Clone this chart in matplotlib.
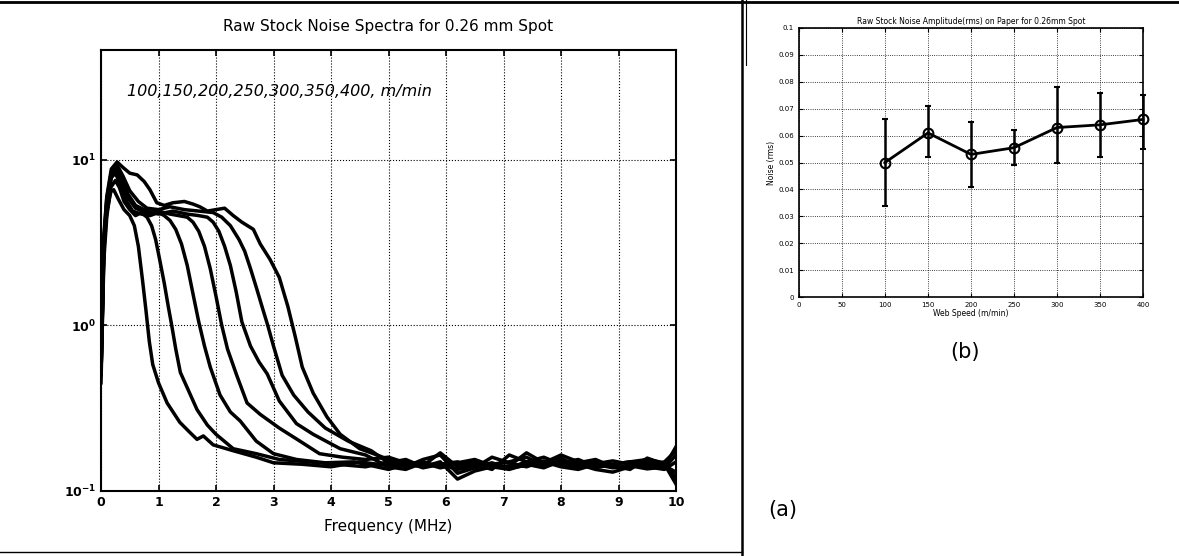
import matplotlib
matplotlib.use("Agg")
import matplotlib.pyplot as plt
from matplotlib.lines import Line2D

# ---- panel (a): raw stock noise spectra, one curve per web speed ----
speeds = [100, 150, 200, 250, 300, 350, 400]

f_100 = [0, 0.05, 0.1, 0.17, 0.22, 0.3, 0.4, 0.5, 0.58, 0.65, 0.72, 0.78, 0.84, 0.9, 1.0, 1.15,
         1.37, 1.55, 1.67, 1.78, 1.95, 2.3, 2.7, 3.0, 3.5, 4.0, 4.5]
a_100 = [0.5, 2.8, 4.8, 6.4, 6.6, 5.8, 5.0, 4.6, 4.0, 3.0, 1.9, 1.25, 0.8, 0.58, 0.45, 0.34,
         0.26, 0.225, 0.205, 0.215, 0.19, 0.175, 0.16, 0.148, 0.145, 0.14, 0.15]

f_150 = [0, 0.05, 0.1, 0.17, 0.25, 0.32, 0.4, 0.5, 0.6, 0.7, 0.8, 0.88, 0.95, 1.02, 1.1, 1.17,
         1.23, 1.3, 1.38, 1.5, 1.67, 1.85, 2.0, 2.3, 2.7, 3.1, 3.6, 4.1, 4.6]
a_150 = [0.45, 2.5, 4.5, 6.8, 7.5, 6.8, 5.6, 5.0, 4.6, 4.8, 4.5, 4.0, 3.3, 2.5, 1.8, 1.3,
         1.0, 0.72, 0.52, 0.42, 0.31, 0.25, 0.22, 0.18, 0.168, 0.155, 0.15, 0.145, 0.14]

f_200 = [0, 0.05, 0.1, 0.18, 0.25, 0.33, 0.42, 0.55, 0.7, 0.85, 1.0, 1.1, 1.2, 1.3, 1.4, 1.5,
         1.6, 1.7, 1.8, 1.9, 2.07, 2.25, 2.42, 2.7, 3.0, 3.4, 3.9, 4.4]
a_200 = [0.5, 3.0, 5.2, 7.8, 8.3, 7.2, 5.8, 4.9, 4.7, 4.6, 4.8, 4.6, 4.3, 3.8, 3.1, 2.3,
         1.55, 1.05, 0.75, 0.56, 0.38, 0.3, 0.265, 0.2, 0.168, 0.155, 0.148, 0.15]

f_250 = [0, 0.05, 0.1, 0.18, 0.26, 0.35, 0.45, 0.6, 0.8, 1.0, 1.2, 1.35, 1.5, 1.6, 1.7, 1.8,
         1.9, 2.0, 2.1, 2.2, 2.36, 2.54, 2.77, 3.1, 3.46, 3.8, 4.2, 4.6]
a_250 = [0.55, 3.2, 5.5, 8.2, 8.8, 7.6, 6.0, 5.1, 4.8, 4.9, 4.7, 4.6, 4.5, 4.2, 3.7, 3.0,
         2.2, 1.5, 1.0, 0.72, 0.5, 0.34, 0.29, 0.24, 0.2, 0.168, 0.16, 0.155]

f_300 = [0, 0.05, 0.1, 0.18, 0.27, 0.36, 0.47, 0.6, 0.8, 1.0, 1.25, 1.5, 1.7, 1.85, 1.95, 2.05,
         2.15, 2.25, 2.35, 2.45, 2.6, 2.75, 2.89, 3.1, 3.4, 3.69, 4.16, 4.6]
a_300 = [0.5, 3.1, 5.4, 8.0, 9.0, 7.8, 6.2, 5.3, 4.9, 4.7, 4.9, 4.7, 4.6, 4.5, 4.2, 3.7,
         3.0, 2.3, 1.6, 1.05, 0.75, 0.6, 0.51, 0.35, 0.255, 0.22, 0.18, 0.165]

f_350 = [0, 0.05, 0.1, 0.18, 0.28, 0.38, 0.5, 0.65, 0.8, 1.0, 1.2, 1.45, 1.7, 1.95, 2.1, 2.25,
         2.4, 2.5, 2.6, 2.7, 2.8, 2.9, 3.0, 3.15, 3.35, 3.6, 3.9, 4.3, 4.7]
a_350 = [0.5, 3.3, 5.8, 8.5, 9.3, 8.0, 6.5, 5.6, 5.1, 5.0, 5.2, 5.0, 4.9, 4.8, 4.5, 4.0,
         3.3, 2.8, 2.2, 1.7, 1.3, 1.0, 0.75, 0.5, 0.38, 0.3, 0.24, 0.2, 0.175]

f_400 = [0, 0.05, 0.1, 0.18, 0.28, 0.38, 0.5, 0.63, 0.75, 0.85, 0.97, 1.1, 1.25, 1.45, 1.6, 1.72,
         1.85, 2.0, 2.15, 2.3, 2.45, 2.65, 2.77, 2.94, 3.1, 3.25, 3.38, 3.5, 3.69, 3.93, 4.16,
         4.5, 4.8]
a_400 = [0.6, 3.5, 6.0, 8.8, 9.7, 9.0, 8.3, 8.1, 7.4, 6.6, 5.5, 5.3, 5.5, 5.6, 5.4, 5.2,
         4.9, 5.0, 5.1, 4.6, 4.2, 3.8, 3.1, 2.5, 1.95, 1.3, 0.85, 0.56, 0.39, 0.28, 0.22,
         0.18, 0.165]

# noise floor, shared frequency grid above 5 MHz
floor_f = [5.0, 5.3, 5.6, 5.9, 6.2, 6.5, 6.8, 7.1, 7.4, 7.7, 8.0, 8.3, 8.6, 8.9, 9.2, 9.5, 9.8, 10.0]
floor_100 = [0.142, 0.150, 0.138, 0.145, 0.135, 0.140, 0.148, 0.137, 0.143, 0.150, 0.140, 0.135,
             0.145, 0.138, 0.142, 0.136, 0.140, 0.185]
floor_150 = [0.150, 0.140, 0.155, 0.165, 0.128, 0.138, 0.145, 0.150, 0.160, 0.142, 0.148, 0.155,
             0.140, 0.145, 0.150, 0.155, 0.148, 0.120]
floor_200 = [0.135, 0.145, 0.140, 0.150, 0.118, 0.132, 0.140, 0.135, 0.145, 0.138, 0.152, 0.145,
             0.135, 0.130, 0.140, 0.145, 0.138, 0.165]
floor_250 = [0.160, 0.148, 0.142, 0.170, 0.140, 0.145, 0.135, 0.165, 0.150, 0.160, 0.145, 0.140,
             0.150, 0.142, 0.135, 0.158, 0.145, 0.110]
floor_300 = [0.140, 0.135, 0.148, 0.138, 0.145, 0.150, 0.140, 0.142, 0.170, 0.148, 0.165, 0.150,
             0.138, 0.145, 0.150, 0.140, 0.135, 0.150]
floor_350 = [0.148, 0.155, 0.140, 0.145, 0.150, 0.138, 0.160, 0.148, 0.140, 0.152, 0.142, 0.148,
             0.155, 0.140, 0.138, 0.150, 0.142, 0.130]
floor_400 = [0.155, 0.145, 0.150, 0.140, 0.148, 0.155, 0.142, 0.138, 0.150, 0.145, 0.158, 0.140,
             0.146, 0.152, 0.145, 0.140, 0.150, 0.175]

spectra = [
    (f_100, a_100, floor_100),
    (f_150, a_150, floor_150),
    (f_200, a_200, floor_200),
    (f_250, a_250, floor_250),
    (f_300, a_300, floor_300),
    (f_350, a_350, floor_350),
    (f_400, a_400, floor_400),
]

# ---- panel (b): noise amplitude vs web speed ----
web_speed = [100, 150, 200, 250, 300, 350, 400]
noise_rms = [0.050, 0.061, 0.053, 0.0555, 0.063, 0.064, 0.066]
err_low = [0.034, 0.052, 0.041, 0.049, 0.050, 0.052, 0.055]
err_high = [0.066, 0.071, 0.065, 0.062, 0.078, 0.076, 0.075]

W, H = 1179, 556
fig = plt.figure(figsize=(W / 100, H / 100), dpi=100)

ax = fig.add_axes([101 / W, 1 - 491 / H, 575 / W, 441 / H])
for f, a, fl in spectra:
    ax.plot(list(f) + floor_f, list(a) + fl, color="black", lw=2.5)
ax.set_yscale("log")
ax.set_xlim(0, 10)
ax.set_ylim(0.1, 46)
ax.set_xticks(range(0, 11))
ax.set_yticks([0.1, 1, 10])
ax.set_yticklabels([r"$\mathbf{10^{-1}}$", r"$\mathbf{10^{0}}$", r"$\mathbf{10^{1}}$"])
ax.minorticks_off()
ax.tick_params(direction="in", labelsize=9, width=1.2, length=4, top=True, right=True)
for lbl in ax.get_xticklabels():
    lbl.set_fontweight("bold")
ax.grid(True, which="major", color="black", ls=":", lw=0.8)
for s in ax.spines.values():
    s.set_linewidth(1.5)
ax.set_title("Raw Stock Noise Spectra for 0.26 mm Spot", fontsize=11, pad=14)
ax.set_xlabel("Frequency (MHz)", fontsize=11, labelpad=7)
ax.text(0.45, 26, "100,150,200,250,300,350,400, m/min", fontsize=11.5, style="italic",
        va="center", ha="left")

bx = fig.add_axes([799 / W, 1 - 297 / H, 344 / W, 269 / H])
yerr = [[n - lo for n, lo in zip(noise_rms, err_low)],
        [hi - n for n, hi in zip(noise_rms, err_high)]]
eb = bx.errorbar(web_speed, noise_rms, yerr=yerr, color="black", lw=2, elinewidth=1.8,
                 capsize=2, marker="o", ms=7, mfc="none", mew=1.5)
for artist in [eb[0], *eb[1], *eb[2]]:
    artist.set_clip_on(False)
bx.set_xlim(0, 400)
bx.set_ylim(0, 0.1)
bx.set_xticks(range(0, 401, 50))
bx.set_yticks([i / 100 for i in range(11)])
bx.set_yticklabels(["0"] + [f"{i / 100:.2f}" for i in range(1, 10)] + ["0.1"])
bx.tick_params(direction="in", labelsize=5, length=3, top=True, right=True)
bx.grid(True, color="black", ls=":", lw=0.6)
for s in bx.spines.values():
    s.set_linewidth(1.2)
bx.set_title("Raw Stock Noise Amplitude(rms) on Paper for 0.26mm Spot", fontsize=5.5, pad=3)
bx.set_xlabel("Web Speed (m/min)", fontsize=5.5, labelpad=1)
bx.set_ylabel("Noise (rms)", fontsize=5.5, labelpad=2)

# panel frames and captions
fig.add_artist(Line2D([0, 1], [1 - 2 / H, 1 - 2 / H], color="black", lw=2))
fig.add_artist(Line2D([742 / W, 742 / W], [0, 1], color="black", lw=1.8))
fig.add_artist(Line2D([0, 742 / W], [4 / H, 4 / H], color="black", lw=1))
fig.add_artist(Line2D([746 / W, 746 / W], [1 - 65 / H, 1], color="black", lw=0.8))
fig.text(965 / W, 1 - 352 / H, "(b)", fontsize=15, ha="center", va="center")
fig.text(783 / W, 1 - 510 / H, "(a)", fontsize=15, ha="center", va="center")

fig.savefig("out.png", dpi=100)
